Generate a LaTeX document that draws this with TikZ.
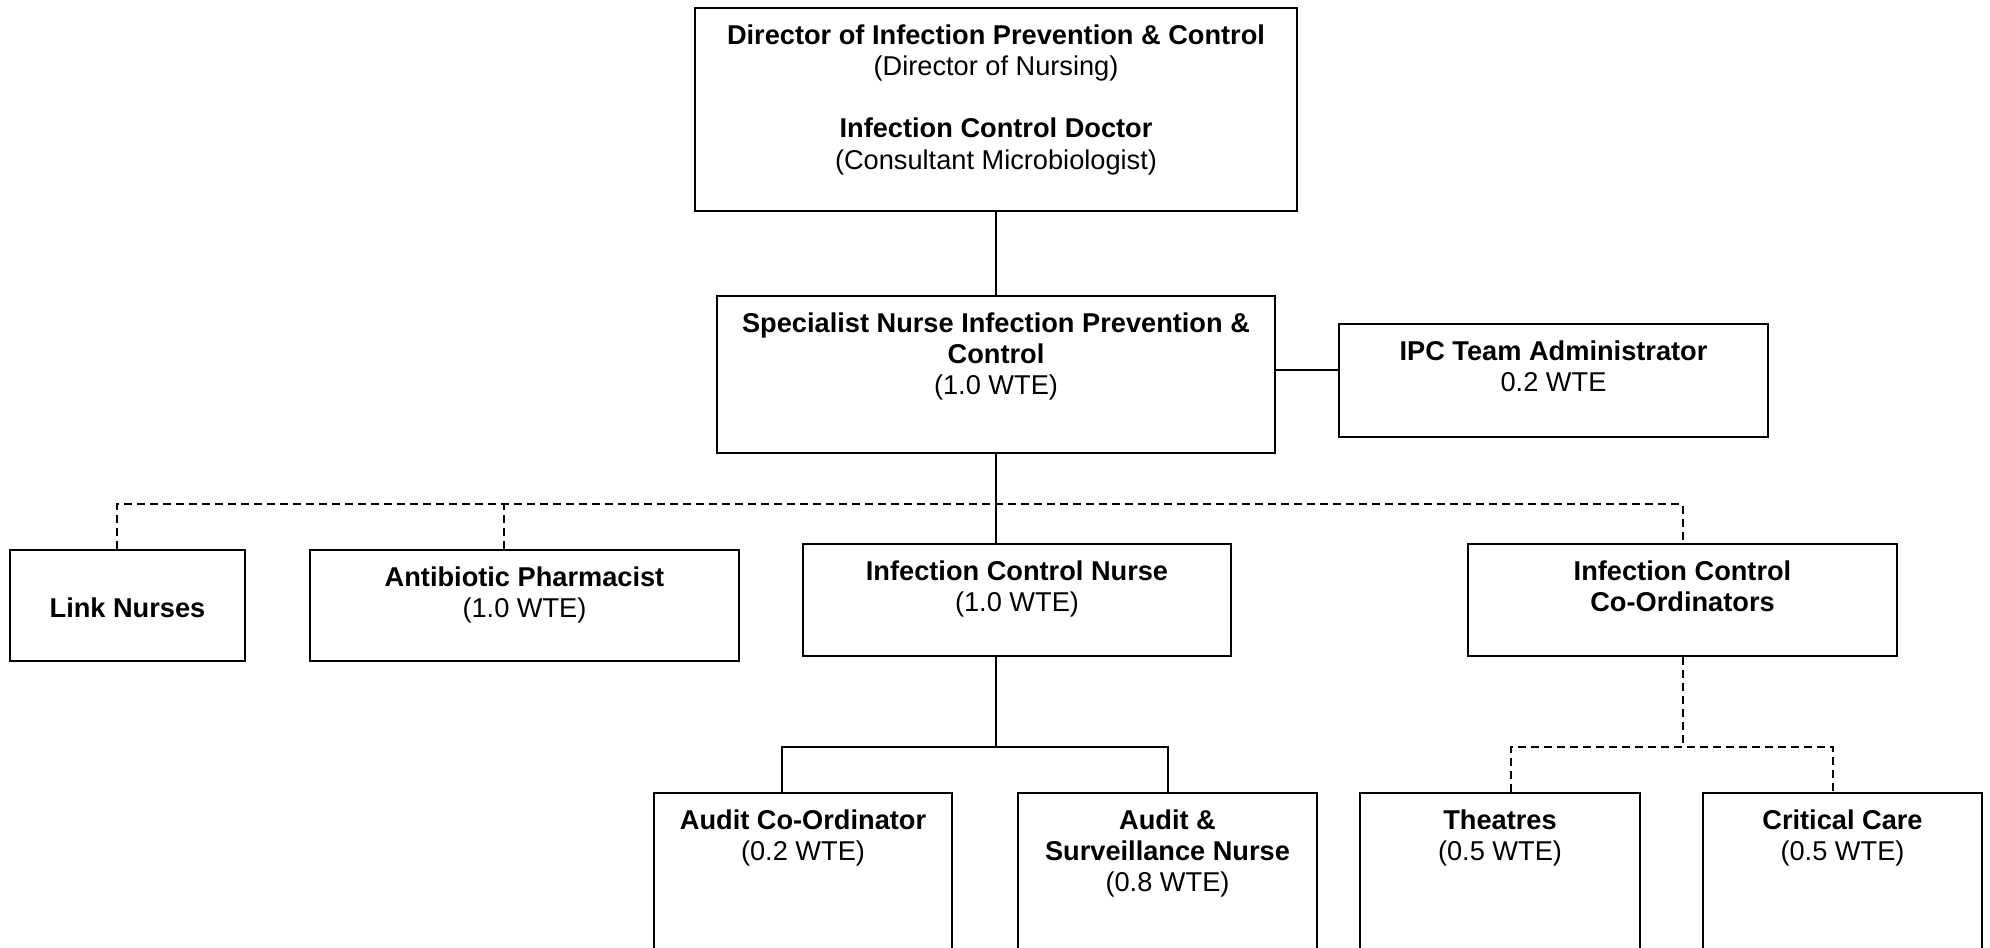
\documentclass[tikz,border=0pt]{standalone}
\usepackage{fontspec}
\setmainfont{Liberation Sans}
\usetikzlibrary{fit,calc}
\begin{document}
\begin{tikzpicture}[x=0.5pt,y=-0.5pt,
  box/.style={draw=black, line width=1pt, inner sep=0pt, rectangle},
  txt/.style={anchor=north, align=center, inner sep=0pt, font=\fontsize{13.6}{15.6}\selectfont},
  conn/.style={line width=1pt},
  dconn/.style={line width=1pt, dash pattern=on 4pt off 2.5pt}]
\useasboundingbox (0,0) rectangle (1990,947);
\clip (0,0) rectangle (1990,947);
% boxes
\node[box, fit={(695,8)(1297,211)}] (top) {};
\node[box, fit={(717,296)(1275,453)}] (spec) {};
\node[box, fit={(1339,324)(1768,437)}] (ipc) {};
\node[box, fit={(10,550)(245,661)}] (link) {};
\node[box, fit={(310,550)(739,661)}] (anti) {};
\node[box, fit={(803,544)(1231,656)}] (icn) {};
\node[box, fit={(1468,544)(1897,656)}] (icc) {};
\node[box, fit={(654,793)(952,980)}] (aco) {};
\node[box, fit={(1018,793)(1317,980)}] (asn) {};
\node[box, fit={(1360,793)(1640,980)}] (thea) {};
\node[box, fit={(1703,793)(1982,980)}] (crit) {};
% texts
\node[txt] (toptxt) at ([yshift=-7.5pt]top.north) {\strut\textbf{Director of Infection Prevention \& Control}\\(Director of Nursing)\\[15.6pt]\textbf{Infection Control Doctor}\\(Consultant Microbiologist)};
\node[txt] (spectxt) at ([yshift=-7.5pt]spec.north) {\strut\textbf{Specialist Nurse Infection Prevention \&}\\\textbf{Control}\\(1.0 WTE)};
\node[txt] (ipctxt) at ([yshift=-7.5pt]ipc.north) {\strut\textbf{IPC Team Administrator}\\0.2 WTE};
\node[txt, anchor=center] (linktxt) at ([yshift=-1pt]link.center) {\textbf{Link Nurses}};
\node[txt] (antitxt) at ([yshift=-7.5pt]anti.north) {\strut\textbf{Antibiotic Pharmacist}\\(1.0 WTE)};
\node[txt] (icntxt) at ([yshift=-7.5pt]icn.north) {\strut\textbf{Infection Control Nurse}\\(1.0 WTE)};
\node[txt] (icctxt) at ([yshift=-7.5pt]icc.north) {\strut\textbf{Infection Control}\\\textbf{Co-Ordinators}};
\node[txt] (acotxt) at ([yshift=-7.5pt]aco.north) {\strut\textbf{Audit Co-Ordinator}\\(0.2 WTE)};
\node[txt] (asntxt) at ([yshift=-7.5pt]asn.north) {\strut\textbf{Audit \&}\\\textbf{Surveillance Nurse}\\(0.8 WTE)};
\node[txt] (theatxt) at ([yshift=-7.5pt]thea.north) {\strut\textbf{Theatres}\\(0.5 WTE)};
\node[txt] (crittxt) at ([yshift=-7.5pt]crit.north) {\strut\textbf{Critical Care}\\(0.5 WTE)};
% solid connectors
\draw[conn] (top.south) -- (spec.north);
\coordinate (sipc) at ($(spec.east)+(0,-5)$);
\draw[conn] (sipc) -- (sipc -| ipc.west);
\draw[conn] (spec.south) -- (spec.south |- icn.north);
\coordinate (icnb) at (spec.south |- icn.south);
\coordinate (brow) at (0,747);
\coordinate (acd) at ([xshift=-10.5pt]aco.north);
\draw[conn] (icnb) -- (icnb |- brow);
\draw[conn] (acd) -- (acd |- brow) -- (asn.north |- brow) -- (asn.north);
% dashed connectors
\coordinate (bus) at (0,504);
\coordinate (ld) at ([xshift=-5.25pt]link.north);
\coordinate (ad) at ([xshift=-10.25pt]anti.north);
\draw[dconn] (ld) -- (ld |- bus) -- (icc.north |- bus) -- (icc.north);
\draw[dconn] (ad) -- (ad |- bus);
\coordinate (td) at ([xshift=5.5pt]thea.north);
\coordinate (cd) at ([xshift=-4.75pt]crit.north);
\draw[dconn] (icc.south) -- (icc.south |- brow);
\draw[dconn] (td) -- (td |- brow) -- (cd |- brow) -- (cd);
\end{tikzpicture}
\end{document}
